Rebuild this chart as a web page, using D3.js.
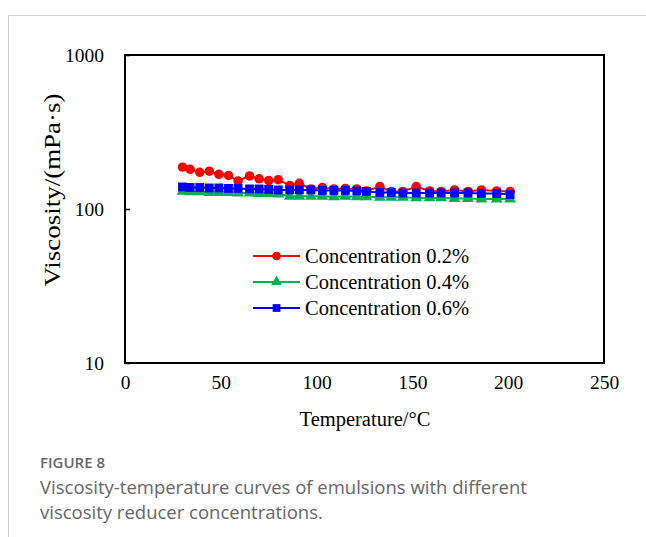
<!DOCTYPE html>
<html>
<head>
<meta charset="utf-8">
<script src="https://cdn.jsdelivr.net/npm/d3@7"></script>
<style>
  html, body { margin: 0; padding: 0; background: #fff; }
  svg { display: block; }
</style>
</head>
<body>
<div id="chart"></div>
<script>
var svgwidth = 646;
var svgheight = 537;

// plot box inside the figure card
var plot = { left: 125, top: 55, right: 604, bottom: 363 };

// temperatures (°C)
var temps = [30, 34, 39, 44, 49, 54, 59, 65, 70, 75, 80, 86, 91, 97, 103,
             109, 115, 121, 126, 133, 139, 145, 152, 159, 165, 172, 179, 186, 194, 201];

// viscosity (mPa·s) per concentration
var conc02 = [187, 181, 173, 176, 168, 165, 152, 164, 157, 153, 155, 142, 147, 135, 138,
              135, 136, 135, 131, 140, 130, 130, 140, 131, 130, 133, 130, 133, 131, 130];
var conc04 = [130, 129, 129, 128, 128, 128, 127, 127, 126, 126, 125, 121, 121, 121, 121,
              120, 121, 120, 120, 119, 119, 119, 118, 118, 118, 117, 117, 116, 116, 116];
var conc06 = [139, 138, 138, 137, 137, 136, 136, 135, 135, 134, 133, 133, 133, 133, 132,
              132, 132, 131, 130, 128, 128, 127, 127, 127, 127, 127, 127, 126, 126, 124];

var seriesNames = ["Concentration 0.2%", "Concentration 0.4%", "Concentration 0.6%"];
var seriesColors = ["#ff0000", "#00b050", "#0000ff"];
var seriesShapes = [d3.symbolCircle, d3.symbolTriangle, d3.symbolSquare];
var seriesValues = [conc02, conc04, conc06];

var xTicks = [0, 50, 100, 150, 200, 250];
var yTicks = [10, 100, 1000];

var serif = "'Liberation Serif', 'Times New Roman', serif";

var svg = d3.select("#chart").append("svg")
    .attr("width", svgwidth).attr("height", svgheight);

// card borders
svg.append("line").attr("x1", 8.5).attr("x2", 8.5).attr("y1", 15.5).attr("y2", svgheight)
    .attr("stroke", "#cfcfcf").attr("stroke-width", 1);
svg.append("line").attr("x1", 8.5).attr("x2", svgwidth).attr("y1", 15.5).attr("y2", 15.5)
    .attr("stroke", "#cfcfcf").attr("stroke-width", 1);

var xScale = d3.scaleLinear().domain([0, 250]).range([plot.left, plot.right]);
var yScale = d3.scaleLog().domain([10, 1000]).range([plot.bottom, plot.top]);

// y axis: labels + small inward tick
var yAxis = d3.axisLeft(yScale)
    .tickValues(yTicks)
    .tickFormat(d3.format("d"))
    .tickSizeInner(-5)
    .tickSizeOuter(0)
    .tickPadding(21);
var yg = svg.append("g").attr("transform", `translate(${plot.left},0)`).call(yAxis);
yg.select(".domain").remove();
yg.selectAll("line").attr("stroke", "#000").attr("stroke-width", 1.5);
yg.selectAll("text").attr("font-family", serif).attr("font-size", 19.5).attr("fill", "#000");

// x axis: labels only
var xAxis = d3.axisBottom(xScale)
    .tickValues(xTicks)
    .tickSize(0)
    .tickPadding(12);
var xg = svg.append("g").attr("transform", `translate(0,${plot.bottom})`).call(xAxis);
xg.select(".domain").remove();
xg.selectAll("text").attr("font-family", serif).attr("font-size", 19.5).attr("fill", "#000");

// plot area border
svg.append("rect")
    .attr("x", plot.left).attr("y", plot.top)
    .attr("width", plot.right - plot.left).attr("height", plot.bottom - plot.top)
    .attr("fill", "none").attr("stroke", "#000").attr("stroke-width", 2);

// axis titles
svg.append("text")
    .attr("x", 365).attr("y", 426)
    .attr("text-anchor", "middle")
    .attr("font-family", serif).attr("font-size", 20.5)
    .text("Temperature/°C");

svg.append("text")
    .attr("transform", "translate(60,190) rotate(-90)")
    .attr("text-anchor", "middle")
    .attr("font-family", serif).attr("font-size", 23)
    .attr("textLength", 193).attr("lengthAdjust", "spacingAndGlyphs")
    .text("Viscosity/(mPa·s)");

// series
var line = d3.line()
    .x((d, i) => xScale(temps[i]))
    .y(d => yScale(d));

seriesValues.forEach(function(vals, k) {
    var g = svg.append("g");
    g.append("path")
        .attr("d", line(vals))
        .attr("fill", "none")
        .attr("stroke", seriesColors[k])
        .attr("stroke-width", 2);
    var size = k == 1 ? 60 : (k == 2 ? 78 : 70);
    g.selectAll("path.mk")
        .data(vals)
        .enter()
        .append("path")
        .attr("class", "mk")
        .attr("transform", (d, i) => `translate(${xScale(temps[i])},${yScale(d)})`)
        .attr("d", d3.symbol().type(seriesShapes[k]).size(size))
        .attr("fill", seriesColors[k]);
});

// legend
var legend = svg.append("g").attr("transform", "translate(253,256)");
seriesNames.forEach(function(name, k) {
    var row = legend.append("g").attr("transform", `translate(0,${k * 26})`);
    row.append("line").attr("x1", 0).attr("x2", 47).attr("y1", 0).attr("y2", 0)
        .attr("stroke", seriesColors[k]).attr("stroke-width", 2);
    row.append("path")
        .attr("transform", "translate(23.5,0)")
        .attr("d", d3.symbol().type(seriesShapes[k]).size(k == 1 ? 50 : 60))
        .attr("fill", seriesColors[k]);
    row.append("text")
        .attr("x", 52).attr("y", 7)
        .attr("font-family", serif).attr("font-size", 20.5)
        .text(name);
});

// caption
var sans = "'Open Sans', 'Noto Sans', sans-serif";
svg.append("text")
    .attr("x", 40).attr("y", 468)
    .attr("font-family", sans).attr("font-size", 15).attr("font-weight", 600).attr("fill", "#666")
    .text("FIGURE 8");
svg.append("text")
    .attr("x", 40).attr("y", 494)
    .attr("font-family", sans).attr("font-size", 18.5).attr("fill", "#666")
    .text("Viscosity-temperature curves of emulsions with different");
svg.append("text")
    .attr("x", 40).attr("y", 519)
    .attr("font-family", sans).attr("font-size", 18.5).attr("fill", "#666")
    .text("viscosity reducer concentrations.");
</script>
</body>
</html>
